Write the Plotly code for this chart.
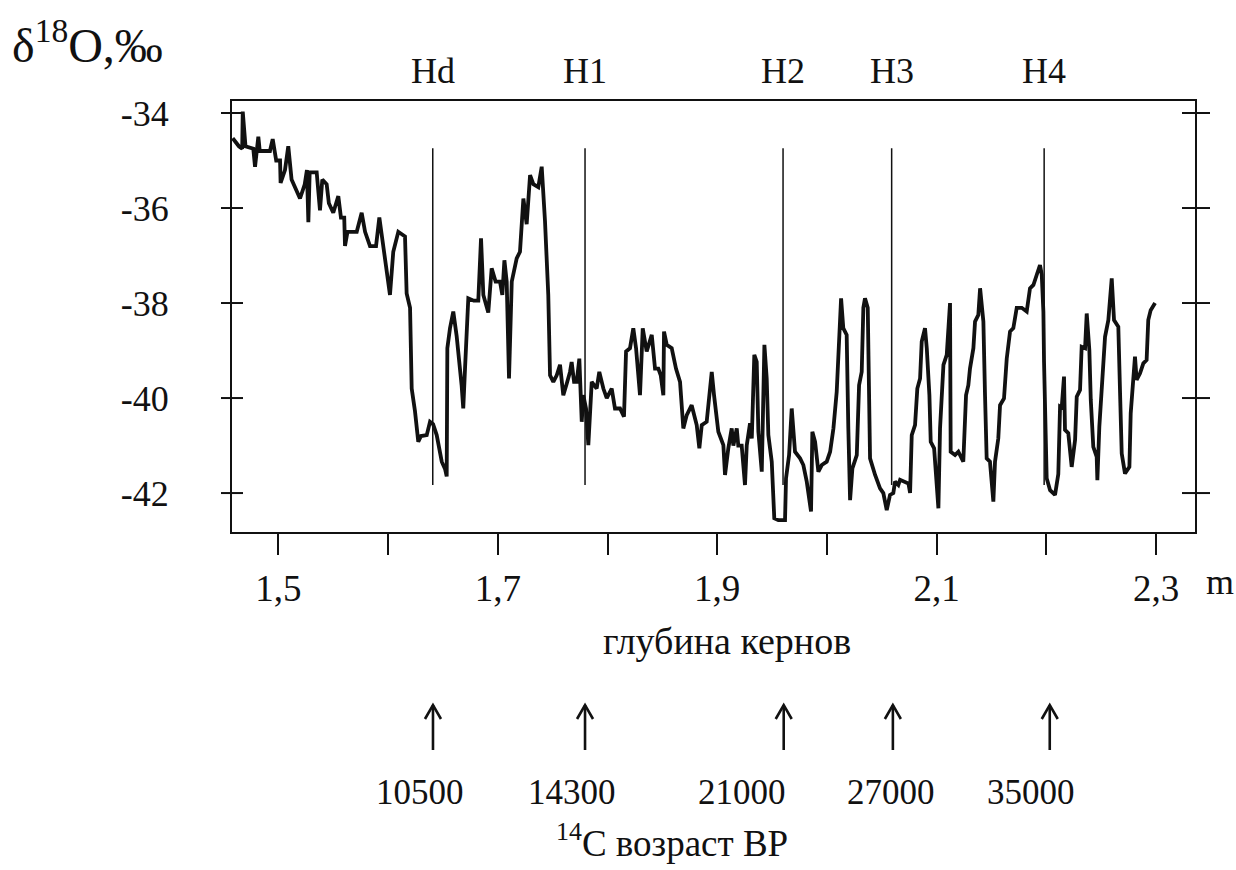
import plotly.graph_objects as go

# ---------------- data ----------------
depth = [1.4583, 1.4640, 1.4670, 1.4675, 1.4700, 1.4771, 1.4787, 1.4817, 1.4830, 1.4923,
         1.4948, 1.4980, 1.5015, 1.5020, 1.5060, 1.5090, 1.5120, 1.5160, 1.5197, 1.5240,
         1.5260, 1.5273, 1.5285, 1.5349, 1.5379, 1.5400, 1.5440, 1.5460, 1.5500, 1.5546,
         1.5570, 1.5600, 1.5607, 1.5630, 1.5714, 1.5759, 1.5790, 1.5835, 1.5890, 1.5920,
         1.5956, 1.6017, 1.6047, 1.6093, 1.6154, 1.6169, 1.6200, 1.6215, 1.6245, 1.6275,
         1.6300, 1.6352, 1.6382, 1.6410, 1.6443, 1.6489, 1.6520, 1.6534, 1.6540, 1.6564,
         1.6594, 1.6625, 1.6670, 1.6685, 1.6701, 1.6731, 1.6780, 1.6822, 1.6847, 1.6868,
         1.6913, 1.6944, 1.6980, 1.7020, 1.7041, 1.7060, 1.7081, 1.7102, 1.7127, 1.7172,
         1.7202, 1.7233, 1.7263, 1.7294, 1.7324, 1.7369, 1.7400, 1.7430, 1.7460, 1.7476,
         1.7506, 1.7537, 1.7567, 1.7597, 1.7628, 1.7658, 1.7673, 1.7695, 1.7719, 1.7743,
         1.7765, 1.7779, 1.7804, 1.7825, 1.7856, 1.7901, 1.7925, 1.7962, 1.7993, 1.8038,
         1.8068, 1.8114, 1.8150, 1.8169, 1.8205, 1.8235, 1.8260, 1.8296, 1.8321, 1.8357,
         1.8403, 1.8433, 1.8463, 1.8485, 1.8509, 1.8515, 1.8540, 1.8585, 1.8624, 1.8661,
         1.8691, 1.8722, 1.8767, 1.8813, 1.8837, 1.8859, 1.8904, 1.8950, 1.8971, 1.9010,
         1.9056, 1.9071, 1.9101, 1.9132, 1.9147, 1.9178, 1.9192, 1.9223, 1.9253, 1.9269,
         1.9299, 1.9315, 1.9338, 1.9360, 1.9375, 1.9406, 1.9430, 1.9451, 1.9466, 1.9497,
         1.9520, 1.9557, 1.9618, 1.9627, 1.9655, 1.9679, 1.9709, 1.9755, 1.9785, 1.9816,
         1.9855, 1.9867, 1.9892, 1.9922, 1.9953, 1.9998, 2.0029, 2.0059, 2.0089, 2.0110,
         2.0129, 2.0149, 2.0180, 2.0195, 2.0211, 2.0232, 2.0272, 2.0293, 2.0317, 2.0332,
         2.0347, 2.0372, 2.0384, 2.0393, 2.0439, 2.0484, 2.0514, 2.0545, 2.0575, 2.0605,
         2.0621, 2.0651, 2.0667, 2.0712, 2.0743, 2.0758, 2.0773, 2.0803, 2.0824, 2.0849,
         2.0864, 2.0894, 2.0910, 2.0934, 2.0946, 2.0977, 2.1001, 2.1016, 2.1031, 2.1062,
         2.1092, 2.1122, 2.1128, 2.1168, 2.1198, 2.1243, 2.1268, 2.1289, 2.1304, 2.1335,
         2.1350, 2.1380, 2.1396, 2.1426, 2.1441, 2.1456, 2.1486, 2.1517, 2.1532, 2.1562,
         2.1578, 2.1614, 2.1639, 2.1669, 2.1699, 2.1730, 2.1776, 2.1821, 2.1851, 2.1882,
         2.1912, 2.1942, 2.1958, 2.1973, 2.1979, 2.1988, 2.2003, 2.2034, 2.2079, 2.2109,
         2.2125, 2.2140, 2.2161, 2.2170, 2.2200, 2.2231, 2.2262, 2.2277, 2.2307, 2.2322,
         2.2353, 2.2368, 2.2392, 2.2405, 2.2428, 2.2459, 2.2465, 2.2483, 2.2514, 2.2535,
         2.2565, 2.2596, 2.2617, 2.2656, 2.2672, 2.2687, 2.2717, 2.2757, 2.2769, 2.2787,
         2.2808, 2.2823, 2.2854, 2.2884, 2.2914, 2.2929, 2.2951, 2.2991]

d18o = [-34.53, -34.70, -34.75, -33.97, -34.70, -34.75, -35.13, -34.50, -34.80, -34.80,
        -34.55, -35.00, -35.00, -35.47, -35.20, -34.70, -35.40, -35.60, -35.80, -35.50,
        -35.20, -36.30, -35.25, -35.25, -36.05, -35.40, -35.50, -35.90, -36.10, -35.75,
        -36.20, -36.20, -36.80, -36.50, -36.50, -36.10, -36.50, -36.80, -36.80, -36.20,
        -36.80, -37.83, -36.92, -36.50, -36.60, -37.80, -38.10, -39.80, -40.28, -40.92,
        -40.80, -40.78, -40.50, -40.55, -40.78, -41.34, -41.50, -41.65, -38.95, -38.53,
        -38.18, -38.70, -39.73, -40.22, -39.38, -37.90, -37.95, -37.95, -36.64, -37.83,
        -38.20, -37.27, -37.55, -37.55, -37.83, -37.10, -37.55, -39.59, -37.55, -37.06,
        -36.92, -35.80, -36.34, -35.31, -35.50, -35.56, -35.13, -36.27, -37.83, -39.52,
        -39.66, -39.52, -39.30, -39.94, -39.70, -39.45, -39.24, -39.66, -39.66, -39.17,
        -40.50, -39.94, -40.22, -40.99, -39.66, -39.80, -39.45, -39.80, -40.00, -39.80,
        -40.22, -40.22, -40.39, -39.02, -38.95, -38.53, -38.95, -39.94, -38.53, -39.02,
        -38.67, -39.38, -39.38, -39.52, -39.94, -38.60, -38.88, -38.95, -39.38, -39.66,
        -40.64, -40.36, -40.15, -40.57, -41.06, -40.57, -40.50, -39.45, -39.94, -40.71,
        -40.99, -41.62, -41.06, -40.64, -41.00, -40.64, -41.00, -41.00, -41.83, -41.00,
        -40.53, -40.85, -39.09, -39.24, -40.71, -41.55, -38.88, -39.59, -40.78, -41.34,
        -42.53, -42.57, -42.57, -41.69, -41.20, -40.22, -41.13, -41.27, -41.41, -41.76,
        -42.39, -40.71, -40.92, -41.55, -41.41, -41.34, -41.13, -40.64, -39.87, -38.81,
        -37.90, -38.53, -38.67, -40.64, -42.15, -41.48, -41.20, -39.73, -39.45, -38.10,
        -37.90, -38.10, -39.52, -41.27, -41.62, -41.90, -42.00, -42.36, -42.04, -42.00,
        -41.76, -41.83, -41.72, -41.76, -41.80, -42.00, -40.78, -40.57, -39.80, -39.59,
        -38.81, -38.53, -38.95, -39.94, -40.92, -41.06, -41.76, -42.32, -40.64, -39.30,
        -39.09, -38.00, -41.13, -41.20, -41.13, -41.34, -39.94, -39.73, -39.38, -38.95,
        -38.39, -38.25, -37.69, -38.39, -39.94, -41.27, -41.34, -42.18, -41.34, -40.85,
        -40.15, -40.01, -39.17, -38.60, -38.53, -38.10, -38.10, -38.18, -37.69, -37.62,
        -37.41, -37.20, -37.40, -38.18, -39.24, -40.64, -41.69, -41.94, -42.04, -41.60,
        -40.18, -40.20, -39.55, -40.67, -40.74, -41.45, -40.88, -39.97, -39.83, -38.92,
        -38.95, -38.22, -38.99, -40.04, -41.03, -41.24, -41.73, -40.60, -39.62, -38.71,
        -38.36, -37.48, -38.36, -38.50, -39.90, -41.17, -41.59, -41.45, -40.32, -39.76,
        -39.13, -39.62, -39.48, -39.27, -39.20, -38.36, -38.15, -38.00]

x_tick_vals = [1.5, 1.7, 1.9, 2.1, 2.3]
x_tick_text = ["1,5", "1,7", "1,9", "2,1", "2,3"]
x_minor_vals = [1.6, 1.8, 2.0, 2.2]
y_tick_vals = [-34, -36, -38, -40, -42]
y_tick_text = ["-34", "-36", "-38", "-40", "-42"]

h_names = ["Hd", "H1", "H2", "H3", "H4"]
h_depths = [1.6407, 1.7795, 1.9600, 2.0590, 2.1980]
h_line_top = -34.74
h_line_bottom = -41.83

ages = ["10500", "14300", "21000", "27000", "35000"]
age_arrow_depths = [1.6409, 1.7795, 1.9606, 2.0601, 2.2031]
age_label_depths = [1.6291, 1.7676, 1.9226, 2.0584, 2.1860]

# ---------------- figure ----------------
W, H = 1236, 870
L, R, T, B = 232, 41, 101, 338
PW, PH = W - L - R, H - T - B
FONT = "Liberation Serif"
INK = "#111111"
PX_PER_UNIT = PW / (2.3355 - 1.4577)


def py(p):
    return (H - B - p) / PH


fig = go.Figure()
fig.add_trace(go.Scatter(x=depth, y=d18o, mode="lines",
                         line=dict(color=INK, width=3.8), showlegend=False,
                         hoverinfo="skip"))

shapes = []
for d in h_depths:
    shapes.append(dict(type="line", xref="x", yref="y", x0=d, x1=d,
                       y0=h_line_top, y1=h_line_bottom,
                       line=dict(color=INK, width=1.5)))
for v in y_tick_vals:
    shapes.append(dict(type="line", xref="paper", yref="y", x0=-11 / PW, x1=11 / PW,
                       y0=v, y1=v, line=dict(color=INK, width=2)))
    shapes.append(dict(type="line", xref="paper", yref="y", x0=1 - 13 / PW, x1=1 + 15 / PW,
                       y0=v, y1=v, line=dict(color=INK, width=2)))
# upward arrows under the age labels
dx = 8 / PX_PER_UNIT
for d in age_arrow_depths:
    shapes.append(dict(type="line", xref="x", yref="paper", x0=d, x1=d,
                       y0=py(750), y1=py(705), line=dict(color=INK, width=2.6)))
    shapes.append(dict(type="path", xref="x", yref="paper",
                       path=f"M {d - dx},{py(719)} L {d},{py(705)} L {d + dx},{py(719)}",
                       line=dict(color=INK, width=2.6)))

ann = []
for name, d in zip(h_names, h_depths):
    ann.append(dict(x=d, y=py(71), xref="x", yref="paper", text=name, showarrow=False,
                    font=dict(family=FONT, size=36, color=INK), xanchor="center", yanchor="middle"))
for a, d in zip(ages, age_label_depths):
    ann.append(dict(x=d, y=py(792), xref="x", yref="paper", text=a, showarrow=False,
                    font=dict(family=FONT, size=35, color=INK), xanchor="center", yanchor="middle"))
ann.append(dict(x=(10 - L) / PW, y=py(42), xref="paper", yref="paper",
                text="δ<sup>18</sup>O,‰", showarrow=False,
                font=dict(family=FONT, size=48, color=INK), xanchor="left", yanchor="middle"))
ann.append(dict(x=(1220 - L) / PW, y=py(582), xref="paper", yref="paper", text="m",
                showarrow=False, font=dict(family=FONT, size=36, color=INK),
                xanchor="center", yanchor="middle"))
ann.append(dict(x=(727 - L) / PW, y=py(641), xref="paper", yref="paper", text="глубина кернов",
                showarrow=False, font=dict(family=FONT, size=38, color=INK),
                xanchor="center", yanchor="middle"))
ann.append(dict(x=(672 - L) / PW, y=py(840), xref="paper", yref="paper",
                text="<sup>14</sup>C возраст BP",
                showarrow=False, font=dict(family=FONT, size=37, color=INK),
                xanchor="center", yanchor="middle"))

fig.update_layout(
    width=W, height=H, margin=dict(l=L, r=R, t=T, b=B, autoexpand=False),
    paper_bgcolor="white", plot_bgcolor="white",
    shapes=shapes, annotations=ann,
    xaxis=dict(range=[1.4577, 2.3355], tickvals=x_tick_vals, ticktext=x_tick_text,
               ticks="outside", ticklen=21, tickwidth=1.5, tickcolor=INK,
               minor=dict(tickvals=x_minor_vals, ticks="outside", ticklen=21,
                          tickwidth=1.5, tickcolor=INK, showgrid=False),
               showline=True, linecolor=INK, linewidth=2, mirror=True,
               showgrid=False, zeroline=False, ticklabelstandoff=2,
               tickfont=dict(family=FONT, size=37, color=INK)),
    yaxis=dict(range=[-42.82, -33.747], tickvals=y_tick_vals, ticktext=y_tick_text,
               ticks="", showline=True, linecolor=INK, linewidth=2, mirror=True,
               showgrid=False, zeroline=False, ticklabelstandoff=54,
               tickfont=dict(family=FONT, size=36, color=INK)),
    font=dict(family=FONT, color=INK),
)

fig.write_html("out.html")
